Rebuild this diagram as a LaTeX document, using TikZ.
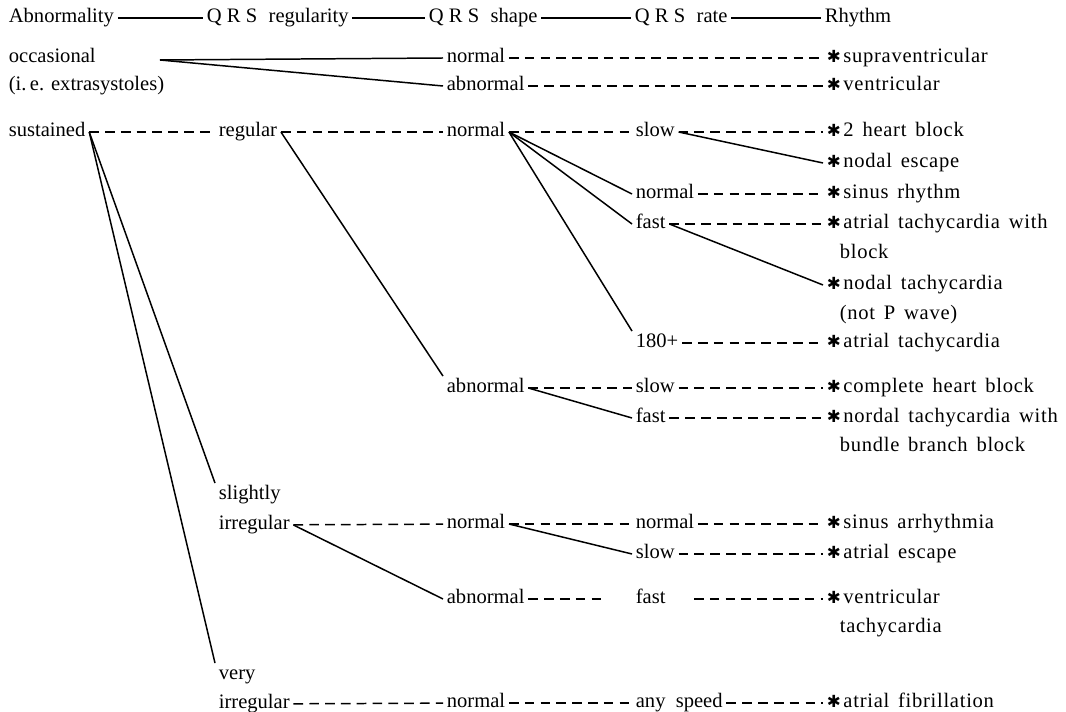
\documentclass[tikz,border=0pt]{standalone}
\usepackage{fontspec}
\setmainfont{Liberation Serif}
\newfontfamily\rhyfont[LetterSpace=3.5,WordSpace=1.5]{Liberation Serif}
\newfontfamily\symfont{DejaVu Sans}
\usepackage{tikz}
\usetikzlibrary{positioning,calc}

\newcommand{\hstar}{{\symfont\fontsize{9.5}{10}\selectfont ✱}\kern1.5pt}
\newcommand{\qrs}{Q\kern3pt R\kern3pt S\hspace{0.55em}}

\begin{document}
\begin{tikzpicture}[
    x=0.02cm, y=-0.02cm,
    lbl/.style={anchor=west, inner sep=2pt, text height=1.6ex, text depth=0.4ex,
                font=\fontsize{11.7}{13}\selectfont},
    rhy/.style={lbl, font=\rhyfont\fontsize{11.7}{13}\selectfont},
    link/.style={line width=0.85pt},
    dashlink/.style={line width=0.85pt, dash pattern=on 5.5pt off 3.5pt}
]
\useasboundingbox (0,0) rectangle (1066,712);

% Headings
\node[lbl] (h1) at (5,18) {Abnormality};
\node[lbl] (h2) at (203,18) {\qrs regularity};
\node[lbl] (h3) at (425,18) {\qrs shape};
\node[lbl] (h4) at (631,18) {\qrs rate};
\node[lbl] (h5) at (821,18) {Rhythm};
\draw[link] (h1) -- (h2);
\draw[link] (h2) -- (h3);
\draw[link] (h3) -- (h4);
\draw[link] (h4) -- (h5);

% Abnormality
\node[lbl] (occ) at (5,58) {occasional};
\node[lbl] (occ2) at (5,86) {(i.\,e. extrasystoles)};
\node[lbl] (sus) at (5,132) {sustained};
\coordinate (occ fork) at (160,60);

% QRS regularity
\node[lbl] (reg) at (215,132) {regular};
\node[lbl] (sli) at (215,495) {slightly};
\node[lbl] (irr1) at (215,525) {irregular};
\node[lbl] (very) at (215,675) {very};
\node[lbl] (irr2) at (215,704) {irregular};

% QRS shape
\node[lbl] (s1) at (443,58) {normal};
\node[lbl] (s2) at (443,86) {abnormal};
\node[lbl] (s3) at (443,132) {normal};
\node[lbl] (s4) at (443,388) {abnormal};
\node[lbl] (s5) at (443,524) {normal};
\node[lbl] (s6) at (443,599) {abnormal};
\node[lbl] (s7) at (443,703) {normal};

% QRS rate
\node[lbl] (q1) at (632,132) {slow};
\node[lbl] (q2) at (632,194) {normal};
\node[lbl] (q3) at (632,224) {fast};
\node[lbl] (q4) at (632,343) {180+};
\node[lbl] (q5) at (632,388) {slow};
\node[lbl] (q6) at (632,418) {fast};
\node[lbl] (q7) at (632,524) {normal};
\node[lbl] (q8) at (632,554) {slow};
\node[lbl] (q9) at (632,599) {fast};
\node[lbl] (q10) at (632,703) {any\ \ speed};

% Rhythm
\node[rhy] (r1) at (823,58) {\hstar supraventricular};
\node[rhy] (r2) at (823,86) {\hstar ventricular};
\node[rhy] (r3) at (823,132) {\hstar 2 heart block};
\node[rhy] (r4) at (823,163) {\hstar nodal escape};
\node[rhy] (r5) at (823,194) {\hstar sinus rhythm};
\node[rhy] (r6) at (823,224) {\hstar atrial tachycardia with};
\node[rhy] (r6b) at (836,254) {block};
\node[rhy] (r7) at (823,285) {\hstar nodal tachycardia};
\node[rhy] (r7b) at (836,315) {(not P wave)};
\node[rhy] (r8) at (823,343) {\hstar atrial tachycardia};
\node[rhy] (r9) at (823,388) {\hstar complete heart block};
\node[rhy] (r10) at (823,418) {\hstar nordal tachycardia with};
\node[rhy] (r10b) at (836,447) {bundle branch block};
\node[rhy] (r11) at (823,524) {\hstar sinus arrhythmia};
\node[rhy] (r12) at (823,554) {\hstar atrial escape};
\node[rhy] (r13) at (823,599) {\hstar ventricular};
\node[rhy] (r13b) at (836,628) {tachycardia};
\node[rhy] (r14) at (823,703) {\hstar atrial fibrillation};

% Solid branches
\draw[link] (occ fork) -- (s1.west);
\draw[link] (occ fork) -- (s2.west);
\draw[link] (sus.east) -- (sli.north west);
\draw[link] (sus.east) -- (very.north west);
\draw[link] (reg.east) -- (s4.north west);
\draw[link] (s3.east) -- (q2.west);
\draw[link] (s3.east) -- (q3.west);
\draw[link] (s3.east) -- (q4.north west);
\draw[link] (q1.east) -- (r4.west);
\draw[link] (q3.east) -- (r7.west);
\draw[link] (s4.east) -- (q6.west);
\draw[link] (irr1.east) -- (s6.west);
\draw[link] (s5.east) -- (q8.west);

% Dashed branches
\draw[dashlink] (s1) -- (r1);
\draw[dashlink] (s2) -- (r2);
\draw[dashlink] (sus) -- (reg);
\draw[dashlink] (reg) -- (s3);
\draw[dashlink] (s3) -- (q1);
\draw[dashlink] (q1) -- (r3);
\draw[dashlink] (q2) -- (r5);
\draw[dashlink] (q3) -- (r6);
\draw[dashlink] (q4) -- (r8);
\draw[dashlink] (s4) -- (q5);
\draw[dashlink] (q5) -- (r9);
\draw[dashlink] (q6) -- (r10);
\draw[dashlink] (irr1) -- (s5);
\draw[dashlink] (s5) -- (q7);
\draw[dashlink] (q7) -- (r11);
\draw[dashlink] (q8) -- (r12);
\draw[dashlink] (s6.east) -- ([xshift=-14]q9.west);
\draw[dashlink] ([xshift=14]q9.east) -- (r13);
\draw[dashlink] (irr2) -- (s7);
\draw[dashlink] (s7) -- (q10);
\draw[dashlink] (q10) -- (r14);

\end{tikzpicture}
\end{document}
